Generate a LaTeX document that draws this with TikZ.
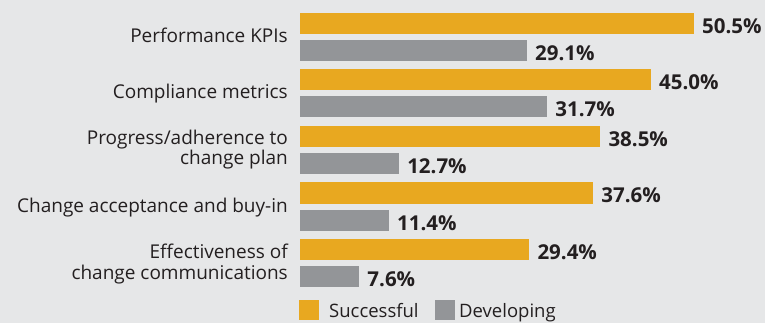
\documentclass[tikz,border=0pt]{standalone}
\usepackage{fontspec}
\setmainfont{Open Sans}
\usepackage{tikz}
\definecolor{bggrey}{HTML}{E6E7E8}
\definecolor{succ}{HTML}{E8A820}
\definecolor{devel}{HTML}{939598}
\definecolor{ink}{HTML}{231F20}

\begin{document}
\begin{tikzpicture}[x=1pt,y=-1pt,
  every node/.style={text=ink,inner sep=0},
  lbl/.style={anchor=base east,align=right,font=\fontsize{19}{20.5}\selectfont},
  val/.style={anchor=base west,font=\bfseries\fontsize{20.5}{22}\selectfont},
  key/.style={anchor=base west,font=\fontsize{18.5}{20}\selectfont},
  succbar/.style={fill=succ},
  devbar/.style={fill=devel}]
  \fill[bggrey] (0,0) rectangle (765,323);
  % one row per measure: index / successful / developing / label baseline / label
  \foreach \i/\s/\d/\off/\txt in {
      0/50.5/29.1/29.5/{Performance KPIs},
      1/45.0/31.7/29.5/{Compliance metrics},
      2/38.5/12.7/38.5/{Progress/adherence to\\change plan},
      3/37.6/11.4/29.5/{Change acceptance and buy-in},
      4/29.4/7.6/40/{Effectiveness of\\change communications}}{
    \pgfmathsetmacro\top{13+56.5*\i}
    \pgfmathsetmacro\se{300+7.8*\s}
    \pgfmathsetmacro\de{300+7.8*\d}
    \fill[succbar] (300,\top) rectangle (\se,\top+21);
    \fill[devbar] (300,\top+27) rectangle (\de,\top+48);
    \node[val] (s\i) at (\se+8,\top+20.5) {\s\%};
    \node[val] (d\i) at (\de+8,\top+47.5) {\d\%};
    \node[lbl] (l\i) at (288,\top+\off) {\txt};
  }
  % legend
  \fill[succbar] (299,300) rectangle (319,320);
  \node[key] (ks) at (329,317.5) {Successful};
  \fill[devbar] (435,300) rectangle (455,320);
  \node[key] (kd) at (459,317.5) {Developing};
\end{tikzpicture}
\end{document}
